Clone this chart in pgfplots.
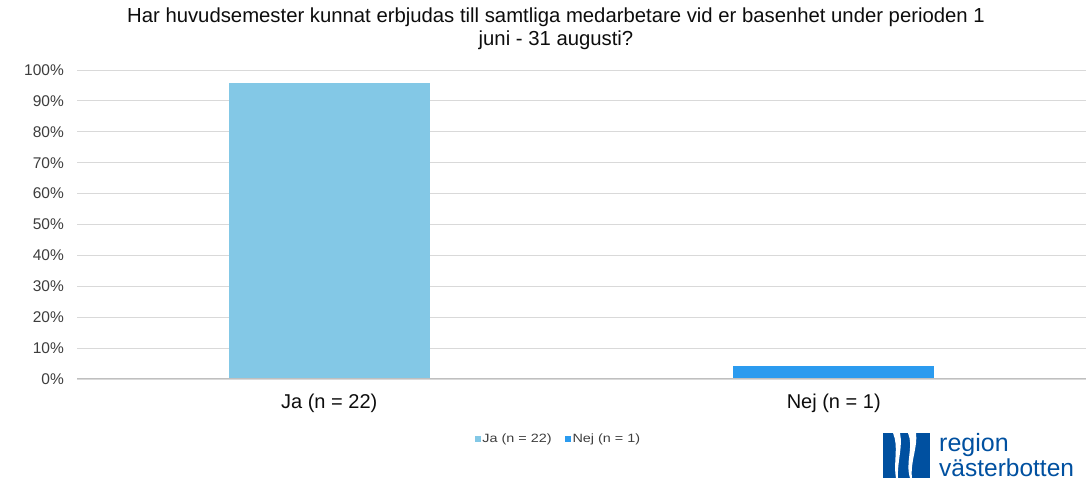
\documentclass[border=0pt]{standalone}
\usepackage{fontspec}
\setmainfont{Liberation Sans}
\newfontfamily\legfont[FakeStretch=1.2]{Liberation Sans}
\usepackage{pgfplots}
\pgfplotsset{compat=1.18}
\definecolor{ja}{RGB}{131,200,230}
\definecolor{nej}{RGB}{43,155,239}
\definecolor{gridc}{RGB}{217,217,217}
\definecolor{axc}{RGB}{191,191,191}
\definecolor{logo}{RGB}{0,80,160}
\definecolor{txt}{RGB}{13,13,13}
\begin{document}
\begin{tikzpicture}[x=1pt,y=1pt]
\path[use as bounding box] (0,0) rectangle (1086,492);
\node[align=center, text=txt, font=\fontsize{20.3}{23}\selectfont] at (556,463) {Har huvudsemester kunnat erbjudas till samtliga medarbetare vid er basenhet under perioden 1\\juni - 31 augusti?};
\begin{axis}[at={(77pt,113pt)}, anchor=south west, scale only axis,
  width=1009pt, height=309pt,
  xmin=-0.5, xmax=1.5, ymin=0, ymax=100,
  ybar, bar width=201pt, bar shift=0pt,
  axis line style={draw=none},
  major tick length=0pt,
  ymajorgrids, grid style={gridc, line width=0.9pt},
  xtick={0,1}, xticklabels={Ja (n = 22), Nej (n = 1)},
  ytick={0,10,...,100},
  yticklabels={0\%,10\%,20\%,30\%,40\%,50\%,60\%,70\%,80\%,90\%,100\%},
  yticklabel style={anchor=east, inner sep=0pt, xshift=-13pt, text=txt!80!white, font=\fontsize{15.5}{18}\selectfont},
  xticklabel style={anchor=center, inner sep=0pt, yshift=-24pt, text=txt, font=\fontsize{20}{24}\selectfont},
  legend columns=2,
  legend style={at={(0.477,-0.194)}, anchor=center, draw=none, fill=none,
    font=\legfont\fontsize{12}{14}\selectfont, text=txt!80!white,
    nodes={inner sep=1.5pt},
    /tikz/every even column/.append style={column sep=12pt}},
  legend image code/.code={\fill[#1,draw=none] (0pt,-3pt) rectangle (6pt,3pt);},
]
\addplot[fill=ja, draw=none] coordinates {(0,95.65)};
\addlegendentry{Ja (n = 22)}
\addplot[fill=nej, draw=none] coordinates {(1,4.35)};
\addlegendentry{Nej (n = 1)}
\draw[axc, line width=1pt] (rel axis cs:0,0) -- (rel axis cs:1,0);
\end{axis}
% logo
\fill[logo] (883,14) rectangle (930,59);
\begin{scope}
\clip (883,14) rectangle (930,59);
\fill[white] (893,59) .. controls (899,45) and (893,30) .. (896,14) -- (898,14) .. controls (897,30) and (903,45) .. (900,59) -- cycle;
\fill[white] (908,59) .. controls (914,45) and (905,30) .. (910,14) -- (912,14) .. controls (910,30) and (918,45) .. (916,59) -- cycle;
\end{scope}
\node[anchor=base west, inner sep=0pt, text=logo, font=\fontsize{25}{26}\selectfont] at (939,40) {region};
\node[anchor=base west, inner sep=0pt, text=logo, font=\fontsize{24.5}{26}\selectfont] at (939,15) {västerbotten};
\end{tikzpicture}
\end{document}
